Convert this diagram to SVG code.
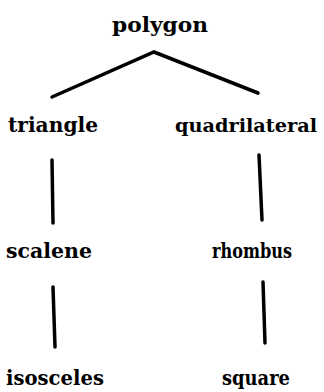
<svg xmlns="http://www.w3.org/2000/svg" width="324" height="392" viewBox="0 0 324 392">
<style>
text{font-family:"DejaVu Serif","Liberation Serif",serif;font-weight:bold;font-size:21px;fill:#000}
.c{stroke:#000;stroke-width:3.5;stroke-linecap:round;fill:none}
</style>
<rect width="324" height="392" fill="#fff"/>
<g id="connectors">
<path class="c" d="M52,97 L154,52 L258,93"/>
<path class="c" d="M52,160 L53,223"/>
<path class="c" d="M259,155 L262,220"/>
<path class="c" d="M53,287 L55,347"/>
<path class="c" d="M263,282 L265,343"/>
</g>
<g id="polygon"><text x="112" y="32" textLength="96" lengthAdjust="spacingAndGlyphs">polygon</text></g>
<g id="triangle"><text x="8" y="132" textLength="90" lengthAdjust="spacingAndGlyphs">triangle</text></g>
<g id="quadrilateral"><text x="175" y="132" style="font-size:19px" textLength="142" lengthAdjust="spacingAndGlyphs">quadrilateral</text></g>
<g id="scalene"><text x="6" y="258" textLength="86" lengthAdjust="spacingAndGlyphs">scalene</text></g>
<g id="rhombus"><text x="212" y="258" textLength="80" lengthAdjust="spacingAndGlyphs">rhombus</text></g>
<g id="isosceles"><text x="6" y="385" textLength="98" lengthAdjust="spacingAndGlyphs">isosceles</text></g>
<g id="square"><text x="222" y="385" textLength="68" lengthAdjust="spacingAndGlyphs">square</text></g>
</svg>
